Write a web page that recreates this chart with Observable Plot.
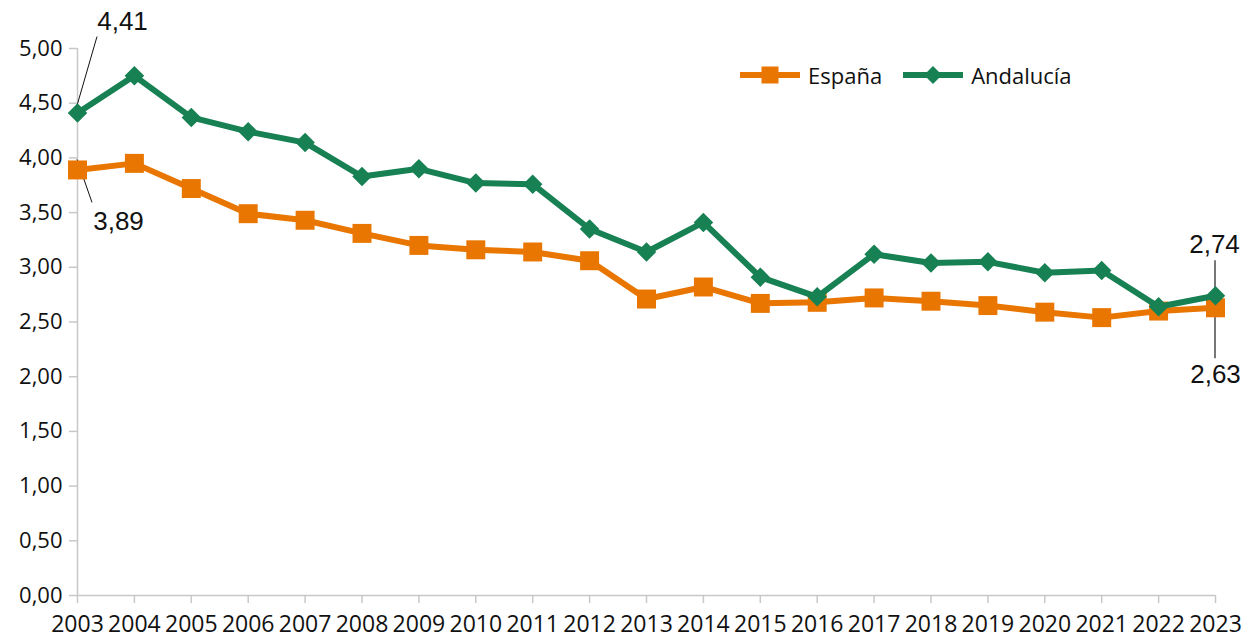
<!DOCTYPE html>
<html>
<head>
<meta charset="utf-8">
<script src="https://cdn.jsdelivr.net/npm/d3@7"></script>
<script src="https://cdn.jsdelivr.net/npm/@observablehq/plot@0.6"></script>
<style>
  html, body { margin: 0; padding: 0; background: #fff; }
  #wrap { position: relative; width: 1252px; height: 639px; font-family: "Open Sans", "Noto Sans", sans-serif; }
  #legend { position: absolute; left: 740px; top: 58px; display: flex; align-items: center; font-size: 22px; color: #111; }
  #legend .item { display: flex; align-items: center; margin-right: 21px; }
  #legend svg { margin-right: 8px; }
</style>
</head>
<body>
<div id="wrap">
  <div id="chart"></div>
  <div id="legend"></div>
</div>
<script>
// ---- Data ----
const years = [2003, 2004, 2005, 2006, 2007, 2008, 2009, 2010, 2011, 2012, 2013,
               2014, 2015, 2016, 2017, 2018, 2019, 2020, 2021, 2022, 2023];
const espana = [3.89, 3.95, 3.72, 3.49, 3.43, 3.31, 3.20, 3.16, 3.14, 3.06, 2.71,
                2.82, 2.67, 2.68, 2.72, 2.69, 2.65, 2.59, 2.54, 2.60, 2.63];
const andalucia = [4.41, 4.75, 4.37, 4.24, 4.14, 3.83, 3.90, 3.77, 3.76, 3.35, 3.14,
                   3.41, 2.91, 2.73, 3.12, 3.04, 3.05, 2.95, 2.97, 2.64, 2.74];
const seriesNames = ["España", "Andalucía"];
const seriesColors = ["#E97600", "#188154"];
const yTicks = [0, 0.5, 1, 1.5, 2, 2.5, 3, 3.5, 4, 4.5, 5];
// annotated values (first and last years)
const annotations = [
  {year: 2003, value: 4.41, label: "4,41"},
  {year: 2003, value: 3.89, label: "3,89"},
  {year: 2023, value: 2.74, label: "2,74"},
  {year: 2023, value: 2.63, label: "2,63"}
];
// label offsets / leader line ends in pixels (styling)
const annStyle = {
  "4,41": {dx: 45, dy: -91, l1: [0, -7], l2: [20, -76], stroke: "#111", w: 1},
  "3,89": {dx: 41, dy: 52, l1: [0, -10], l2: [15, 33], stroke: "#111", w: 1},
  "2,74": {dx: -1, dy: -51, l1: [0, -35], l2: [0, 8], stroke: "#555", w: 1.6},
  "2,63": {dx: 0, dy: 67, l1: [0, -4], l2: [0, 51], stroke: "#555", w: 1.6}
};

const fmt = v => v.toFixed(2).replace(".", ",");
const esp = years.map((y, i) => ({year: y, value: espana[i], serie: seriesNames[0]}));
const and = years.map((y, i) => ({year: y, value: andalucia[i], serie: seriesNames[1]}));

const leaders = (index, scales) => {
  const g = document.createElementNS("http://www.w3.org/2000/svg", "g");
  for (const a of annotations) {
    const s = annStyle[a.label];
    const x = scales.x(a.year), y = scales.y(a.value);
    const line = document.createElementNS("http://www.w3.org/2000/svg", "line");
    line.setAttribute("x1", x + s.l1[0]);
    line.setAttribute("y1", y + s.l1[1]);
    line.setAttribute("x2", x + s.l2[0]);
    line.setAttribute("y2", y + s.l2[1]);
    line.setAttribute("stroke", s.stroke);
    line.setAttribute("stroke-width", s.w);
    g.appendChild(line);
  }
  return g;
};

const annText = annotations.map(a => Plot.text([a], {
  x: "year", y: "value", text: "label",
  dx: annStyle[a.label].dx, dy: annStyle[a.label].dy,
  fontSize: 26, fill: "#111", fontFamily: "'Liberation Sans', Arial, sans-serif"
}));

const chart = Plot.plot({
  width: 1252,
  height: 639,
  marginLeft: 77,
  marginRight: 37,
  marginTop: 48,
  marginBottom: 44,
  style: {fontFamily: "'Open Sans', 'Noto Sans', sans-serif", color: "#111", background: "#fff"},
  x: {domain: [2003, 2023], label: null},
  y: {domain: [0, 5], label: null},
  marks: [
    Plot.ruleY([0], {stroke: "#c8c8c8", strokeWidth: 1.5}),
    Plot.ruleX([2003], {stroke: "#c8c8c8", strokeWidth: 1.5}),
    Plot.axisY({ticks: yTicks, tickFormat: fmt, tickSize: 8, tickPadding: 7, fontSize: 22, stroke: "#c8c8c8", strokeWidth: 1.5, label: null}),
    Plot.axisX({ticks: years, tickFormat: d => String(d), tickSize: 8, tickPadding: 12, fontSize: 23, stroke: "#c8c8c8", strokeWidth: 1.5, label: null}),
    leaders,
    Plot.line(esp, {x: "year", y: "value", stroke: seriesColors[0], strokeWidth: 6, strokeLinejoin: "round"}),
    Plot.dot(esp, {x: "year", y: "value", symbol: "square", r: 10.7, fill: seriesColors[0], stroke: "none"}),
    Plot.line(and, {x: "year", y: "value", stroke: seriesColors[1], strokeWidth: 6, strokeLinejoin: "round"}),
    Plot.dot(and, {x: "year", y: "value", symbol: "diamond2", r: 8.8, fill: seriesColors[1], stroke: "none"}),
    ...annText
  ]
});
document.getElementById("chart").appendChild(chart);

// ---- Legend ----
const legend = document.getElementById("legend");
seriesNames.forEach((name, i) => {
  const item = document.createElement("div");
  item.className = "item";
  const sym = i === 0
    ? `<rect x="21.5" y="8.5" width="17" height="17" fill="${seriesColors[i]}"/>`
    : `<path d="M30,8 L39,17 L30,26 L21,17 Z" fill="${seriesColors[i]}"/>`;
  item.innerHTML = `<svg width="60" height="34"><line x1="0" y1="17" x2="60" y2="17" stroke="${seriesColors[i]}" stroke-width="6"/>${sym}</svg><span>${name}</span>`;
  legend.appendChild(item);
});
</script>
</body>
</html>
